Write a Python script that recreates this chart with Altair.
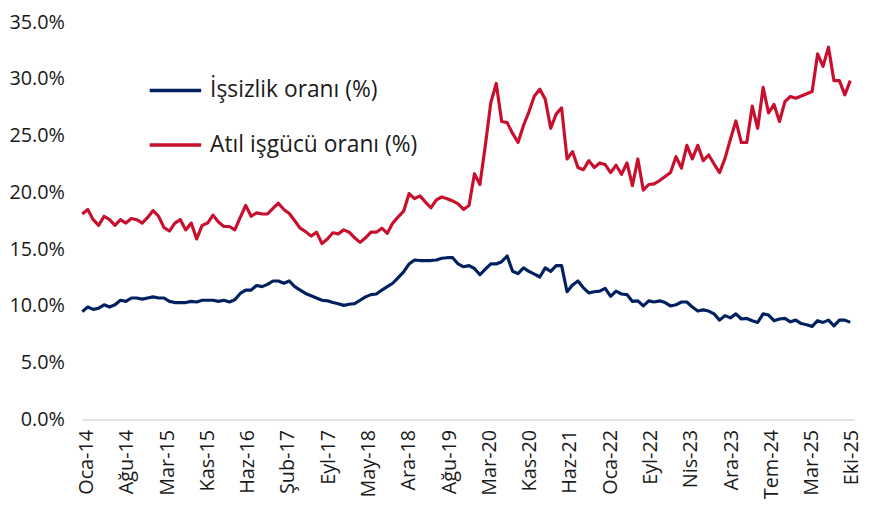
import altair as alt
import pandas as pd

# Tick labels (evenly spaced along the axis)
tick_labels = ["Oca-14", "Ağu-14", "Mar-15", "Kas-15", "Haz-16", "Şub-17", "Eyl-17",
               "May-18", "Ara-18", "Ağu-19", "Mar-20", "Kas-20", "Haz-21", "Oca-22",
               "Eyl-22", "Nis-23", "Ara-23", "Tem-24", "Mar-25", "Eki-25"]

series_names = ["İşsizlik oranı (%)", "Atıl işgücü oranı (%)"]
series_colors = ["#002060", "#C8102E"]

# Monthly values, Jan 2014 .. Oct 2025 (142 months)
unemployment = [
    9.5, 9.9, 9.7, 9.8, 10.1, 9.9, 10.1, 10.5, 10.4, 10.7,
    10.7, 10.6, 10.7, 10.8, 10.7, 10.7, 10.4, 10.3, 10.3, 10.3,
    10.4, 10.35, 10.5, 10.5, 10.5, 10.4, 10.5, 10.35, 10.55, 11.1,
    11.4, 11.4, 11.8, 11.7, 11.9, 12.2, 12.2, 12.0, 12.2, 11.7,
    11.4, 11.1, 10.9, 10.7, 10.5, 10.45, 10.3, 10.2, 10.05, 10.15,
    10.2, 10.5, 10.8, 11.0, 11.05, 11.4, 11.7, 12.0, 12.5, 13.0,
    13.7, 14.05, 14.0, 14.0, 14.0, 14.05, 14.2, 14.25, 14.25, 13.7,
    13.45, 13.55, 13.3, 12.75, 13.25, 13.7, 13.7, 13.9, 14.4, 13.05,
    12.85, 13.35, 13.05, 12.8, 12.55, 13.35, 13.05, 13.55, 13.55, 11.25,
    11.85, 12.2, 11.6, 11.15, 11.25, 11.3, 11.55, 10.85, 11.3, 11.05,
    11.0, 10.4, 10.45, 10.0, 10.45, 10.35, 10.45, 10.3, 10.0, 10.1,
    10.35, 10.35, 9.9, 9.55, 9.65, 9.55, 9.3, 8.75, 9.15, 8.95,
    9.3, 8.85, 8.9, 8.7, 8.55, 9.3, 9.2, 8.7, 8.85, 8.9,
    8.6, 8.75, 8.45, 8.35, 8.2, 8.7, 8.55, 8.75, 8.25, 8.75,
    8.75, 8.55,
]

underutilization = [
    18.1, 18.5, 17.6, 17.1, 17.9, 17.6, 17.1, 17.6, 17.3, 17.7,
    17.6, 17.3, 17.8, 18.4, 17.9, 16.9, 16.6, 17.3, 17.6, 16.7,
    17.3, 15.9, 17.1, 17.3, 18.0, 17.4, 17.0, 17.0, 16.7, 17.8,
    18.85, 17.9, 18.2, 18.1, 18.1, 18.6, 19.05, 18.5, 18.15, 17.5,
    16.85, 16.55, 16.15, 16.5, 15.5, 15.9, 16.45, 16.35, 16.7, 16.5,
    16.0, 15.6, 16.0, 16.5, 16.5, 16.85, 16.4, 17.3, 17.85, 18.35,
    19.9, 19.45, 19.7, 19.15, 18.65, 19.35, 19.6, 19.45, 19.25, 19.0,
    18.5, 18.85, 21.65, 20.7, 24.15, 27.9, 29.6, 26.25, 26.15, 25.2,
    24.4, 25.9, 27.1, 28.5, 29.1, 28.2, 25.65, 26.9, 27.45, 22.95,
    23.6, 22.2, 22.0, 22.8, 22.2, 22.6, 22.45, 21.75, 22.4, 21.6,
    22.6, 20.6, 22.95, 20.2, 20.7, 20.75, 21.05, 21.4, 21.75, 23.15,
    22.15, 24.15, 22.95, 24.15, 22.8, 23.3, 22.5, 21.75, 23.0, 24.7,
    26.3, 24.4, 24.4, 27.6, 25.65, 29.25, 27.0, 27.75, 26.25, 28.0,
    28.45, 28.3, 28.5, 28.7, 28.9, 32.2, 31.1, 32.8, 29.85, 29.85,
    28.6, 29.85,
]

rows = []
for i, v in enumerate(unemployment):
    rows.append({"idx": i, "value": v, "series": series_names[0]})
for i, v in enumerate(underutilization):
    rows.append({"idx": i, "value": v, "series": series_names[1]})
df = pd.DataFrame(rows)

n_months = len(unemployment)
x_max = n_months - 1 + 0.7
first_tick = 0.8
last_tick = n_months - 1 + 0.3
step = (last_tick - first_tick) / (len(tick_labels) - 1)
tick_values = [first_tick + k * step for k in range(len(tick_labels))]
label_array = "[" + ",".join("'" + t + "'" for t in tick_labels) + "]"

FONT = "Open Sans"
TXT = "#1a1a1a"

chart = alt.Chart(df).mark_line(strokeWidth=3.2, strokeJoin="round").encode(
    x=alt.X("idx:Q",
            scale=alt.Scale(domain=[0, x_max], nice=False, zero=False),
            axis=alt.Axis(values=tick_values, title=None, grid=False, ticks=False,
                          labelAngle=-90, labelPadding=10, labelFontSize=20,
                          labelFont=FONT, labelColor=TXT,
                          labelExpr=label_array + "[round((datum.value - %s) / %s)]" % (first_tick, step),
                          domainColor="#d9d9d9", domainWidth=1.5, labelOverlap=False,
                          labelFlush=False)),
    y=alt.Y("value:Q",
            scale=alt.Scale(domain=[0, 35], nice=False),
            axis=alt.Axis(values=[0, 5, 10, 15, 20, 25, 30, 35], title=None, grid=False,
                          ticks=False, domain=False, labelPadding=18, labelFontSize=20,
                          labelFont=FONT, labelColor=TXT,
                          labelExpr="format(datum.value, '.1f') + '%'")),
    color=alt.Color("series:N",
                    scale=alt.Scale(domain=series_names, range=series_colors),
                    sort=series_names,
                    legend=alt.Legend(orient="none", legendX=66, legendY=41, title=None,
                                      symbolType="stroke", symbolSize=2704,
                                      symbolStrokeWidth=3.5, labelFontSize=23,
                                      labelFont=FONT, labelColor=TXT, labelOffset=7,
                                      labelLimit=0, rowPadding=15)),
).properties(
    width=779, height=401,
    autosize=alt.AutoSizeParams(type="none"),
    padding={"left": 75, "top": 12, "right": 10, "bottom": 80},
).configure_view(stroke=None)

chart.save("out.html", embed_options={"renderer": "svg", "actions": False})
